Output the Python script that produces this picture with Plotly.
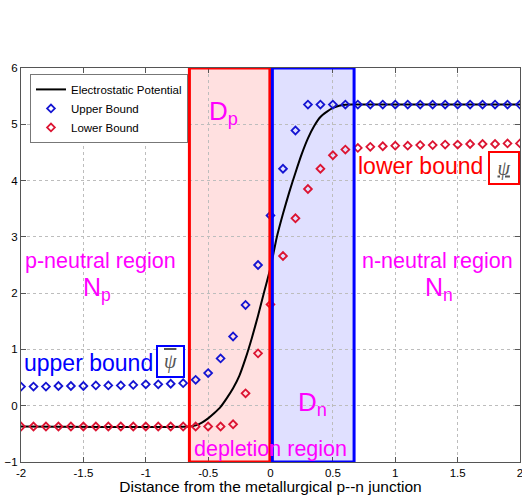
import plotly.graph_objects as go

# ---- data ----
x_pts = [round(-2.0 + 0.1 * i, 2) for i in range(41)]

upper_bound = [0.34, 0.34, 0.34, 0.35, 0.35, 0.35, 0.36, 0.36, 0.36, 0.37,
               0.38, 0.38, 0.39, 0.40, 0.46, 0.58, 0.84, 1.23, 1.79, 2.50,
               3.38, 4.21, 4.89] + [5.35] * 18

lower_bound = [-0.37] * 17 + [-0.33, 0.22, 0.93, 1.80, 2.66, 3.33, 3.85, 4.21,
               4.45, 4.55, 4.58, 4.60, 4.61, 4.62, 4.62, 4.63, 4.63, 4.64,
               4.64, 4.65, 4.65, 4.65, 4.66, 4.66]

pot_x = [-2.0, -0.65, -0.60, -0.55, -0.50, -0.45, -0.40, -0.35, -0.30, -0.25,
         -0.20, -0.15, -0.10, -0.05, 0.00, 0.05, 0.10, 0.15, 0.20, 0.25,
         0.30, 0.35, 0.40, 0.45, 0.50, 0.55, 0.60, 0.65, 2.0]
pot_y = [-0.37, -0.37, -0.35, -0.30, -0.225, -0.13, -0.02, 0.135, 0.31, 0.53,
         0.84, 1.20, 1.60, 2.03, 2.45, 2.99, 3.41, 3.79, 4.14, 4.47,
         4.75, 4.97, 5.13, 5.22, 5.29, 5.33, 5.345, 5.35, 5.35]

# depletion region edges
XP_LEFT, XP_RIGHT = -0.65, -0.005
XN_LEFT, XN_RIGHT = 0.015, 0.67
Y_LOW, Y_HIGH = -1, 6

x_ticks = [-2, -1.5, -1, -0.5, 0, 0.5, 1, 1.5, 2]
x_ticklabels = ["-2", "-1.5", "-1", "-0.5", "0", "0.5", "1", "1.5", "2"]
y_ticks = [-1, 0, 1, 2, 3, 4, 5, 6]

FONT = "Liberation Sans, Arial, sans-serif"
MAG = "#ff00ff"

fig = go.Figure()

fig.add_trace(go.Scatter(x=pot_x, y=pot_y, mode="lines", name="Electrostatic Potential",
                         line=dict(color="black", width=2, shape="spline", smoothing=0.6)))
fig.add_trace(go.Scatter(x=x_pts, y=upper_bound, mode="markers", name="Upper Bound",
                         marker=dict(symbol="diamond-open", size=6, color="#1414d2",
                                     line=dict(width=1.8, color="#1414d2"))))
fig.add_trace(go.Scatter(x=x_pts, y=lower_bound, mode="markers", name="Lower Bound",
                         marker=dict(symbol="diamond-open", size=6, color="#dc1432",
                                     line=dict(width=1.8, color="#dc1432"))))

# region fills (below) and outlines (above)
fig.add_shape(type="rect", x0=XP_LEFT, x1=XP_RIGHT, y0=Y_LOW, y1=Y_HIGH,
              fillcolor="rgba(255,0,0,0.12)", line=dict(width=0), layer="below")
fig.add_shape(type="rect", x0=XN_LEFT, x1=XN_RIGHT, y0=Y_LOW, y1=Y_HIGH,
              fillcolor="rgba(0,0,255,0.12)", line=dict(width=0), layer="below")
fig.add_shape(type="rect", x0=XP_LEFT, x1=XP_RIGHT, y0=Y_LOW, y1=Y_HIGH,
              line=dict(color="#ff0000", width=3), layer="above")
fig.add_shape(type="rect", x0=XN_LEFT, x1=XN_RIGHT, y0=Y_LOW, y1=Y_HIGH,
              line=dict(color="#0000ff", width=3), layer="above")

def txt(x, y, s, color, size):
    fig.add_annotation(x=x, y=y, text=s, showarrow=False,
                       font=dict(family=FONT, size=size, color=color),
                       xanchor="center", yanchor="middle")

txt(-0.38, 5.21, "D<sub>p</sub>", MAG, 26)
txt(0.34, 0.04, "D<sub>n</sub>", MAG, 26)
txt(0.0, -0.77, "depletion region", MAG, 21.5)
txt(-1.36, 2.58, "p-neutral region", MAG, 21.5)
txt(-1.39, 2.07, "N<sub>p</sub>", MAG, 25)
txt(1.34, 2.58, "n-neutral region", MAG, 21.5)
txt(1.35, 2.07, "N<sub>n</sub>", MAG, 25)
txt(-1.46, 0.76, "upper bound", "#0000ff", 23)
txt(1.20, 4.26, "lower bound", "#ff0000", 23)

fig.add_annotation(x=-0.80, y=0.79, showarrow=False,
                   text='<span style="text-decoration:overline"><i>ψ</i></span>',
                   font=dict(family="Liberation Serif, serif", size=20, color="#555555"),
                   bordercolor="#0000ff", borderwidth=2, borderpad=1,
                   width=23, height=27, bgcolor="white")
fig.add_annotation(x=1.875, y=4.23, showarrow=False,
                   text='<u><i>ψ</i></u>',
                   font=dict(family="Liberation Serif, serif", size=20, color="#555555"),
                   bordercolor="#ff0000", borderwidth=2, borderpad=1,
                   width=26, height=28, bgcolor="white")

axis_common = dict(showgrid=True, gridcolor="#bdbdbd", griddash="dot", gridwidth=1,
                   zeroline=False, showline=True, linecolor="#555555", linewidth=1,
                   mirror="ticks", ticks="inside", ticklen=5, tickcolor="#555555",
                   ticklabeloverflow="allow",
                   tickfont=dict(family=FONT, size=11.5, color="black"))

fig.update_xaxes(range=[-2, 2], tickvals=x_ticks, ticktext=x_ticklabels,
                 title=dict(text="Distance from the metallurgical p--n junction",
                            font=dict(family=FONT, size=15.5, color="black")),
                 **axis_common)
fig.update_yaxes(range=[Y_LOW, Y_HIGH], tickvals=y_ticks, **axis_common)

fig.update_layout(
    width=522, height=495,
    margin=dict(l=21, r=2, t=68, b=33, autoexpand=False),
    paper_bgcolor="white", plot_bgcolor="white",
    font=dict(family=FONT, color="black"),
    showlegend=True,
    legend=dict(x=0.018, y=0.985, xanchor="left", yanchor="top",
                bgcolor="white", bordercolor="#777777", borderwidth=1,
                font=dict(family=FONT, size=11.5, color="black"),
                itemwidth=30, tracegroupgap=0),
)

fig.write_html("out.html", config={"displayModeBar": False},
               post_script="document.body.style.margin='0';document.body.style.overflow='hidden';")
